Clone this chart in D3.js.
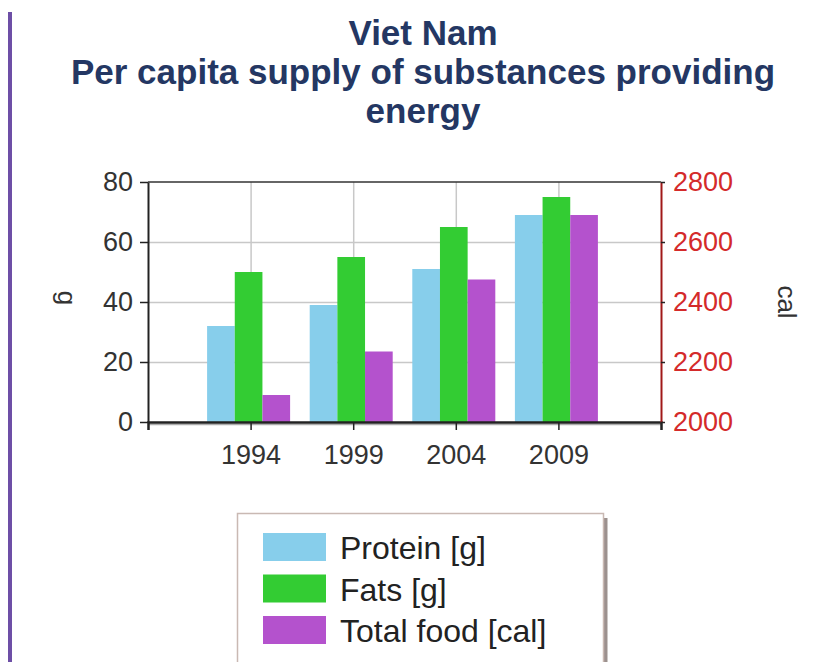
<!DOCTYPE html>
<html lang="en">
<head>
  <meta charset="UTF-8">
  <title>Viet Nam - energy supply</title>
  <style>
    body { margin: 0; background: #fff; }
    svg { display: block; font-family: "Liberation Sans", Arial, sans-serif; }
    .grid line { stroke: #c8c8c8; stroke-width: 1.5; }
    .grid path { display: none; }
  </style>
</head>
<body>
  <div id="chart"></div>
  <script src="https://d3js.org/d3.v7.min.js"></script>
  <script>
    // values
    const years = ["1994", "1999", "2004", "2009"];
    const protein = [32, 39, 51, 69];        // g
    const fats = [50, 55, 65, 75];           // g
    const totalFood = [2090, 2235, 2475, 2690]; // cal
    const seriesNames = ["Protein [g]", "Fats [g]", "Total food [cal]"];
    const gTicks = [0, 20, 40, 60, 80];
    const calTicks = [2000, 2200, 2400, 2600, 2800];

    const colors = ["#87CEEB", "#33CC33", "#B452CD"];
    const W = 818, H = 662;
    const pLeft = 148, pRight = 661, pTop = 182, pBottom = 422;

    const svg = d3.select('#chart').append('svg')
      .attr('width', W).attr('height', H);

    // purple page border on the left
    svg.append('rect').attr('x', 8).attr('y', 12).attr('width', 4).attr('height', H - 12)
      .attr('fill', '#6d4fa6');

    // title
    const title = ["Viet Nam", "Per capita supply of substances providing", "energy"];
    svg.append('g').selectAll('text').data(title).join('text')
      .attr('x', 423).attr('y', (d, i) => 45 + i * 39)
      .attr('text-anchor', 'middle')
      .attr('font-size', 35).attr('font-weight', 'bold')
      .attr('fill', '#243763')
      .text(d => d);

    const x = d3.scalePoint().domain(years).range([pLeft, pRight]).padding(1);
    const y = d3.scaleLinear().domain([0, 80]).range([pBottom, pTop]);
    const y2 = d3.scaleLinear().domain([2000, 2800]).range([pBottom, pTop]);
    const xInner = d3.scaleBand().domain(d3.range(3)).range([-43.5, 39.5]);

    // grid
    svg.append('g').attr('class', 'grid')
      .attr('transform', `translate(0,${pBottom})`)
      .call(d3.axisBottom(x).tickSize(-(pBottom - pTop)).tickFormat(''));
    svg.append('g').attr('class', 'grid')
      .attr('transform', `translate(${pLeft},0)`)
      .call(d3.axisLeft(y).tickValues([20, 40, 60]).tickSize(-(pRight - pLeft)).tickFormat(''));

    // top border
    svg.append('line').attr('x1', pLeft).attr('x2', pRight).attr('y1', pTop).attr('y2', pTop)
      .attr('stroke', '#333').attr('stroke-width', 1.5);

    // bars
    const rows = years.map((yr, i) => ({ year: yr, vals: [protein[i], fats[i], totalFood[i]] }));
    const groups = svg.append('g').selectAll('g').data(rows).join('g')
      .attr('transform', d => `translate(${x(d.year)},0)`);
    groups.selectAll('rect').data(d => d.vals.map((v, k) => ({ v, k }))).join('rect')
      .attr('x', d => xInner(d.k))
      .attr('width', xInner.bandwidth())
      .attr('y', d => d.k === 2 ? y2(d.v) : y(d.v))
      .attr('height', d => pBottom - (d.k === 2 ? y2(d.v) : y(d.v)))
      .attr('fill', d => colors[d.k]);

    // axes
    const tickFont = 27;
    // soft shadow under the x axis line
    svg.append('line').attr('x1', pLeft).attr('x2', pRight).attr('y1', pBottom + 2.5).attr('y2', pBottom + 2.5)
      .attr('stroke', '#777').attr('stroke-width', 1.5).attr('opacity', 0.6);
    const xAxis = svg.append('g')
      .attr('transform', `translate(0,${pBottom})`)
      .call(d3.axisBottom(x).tickSize(8).tickPadding(15));
    xAxis.select('.domain').attr('stroke', '#222').attr('stroke-width', 2.5);
    xAxis.selectAll('line').attr('stroke', '#222').attr('stroke-width', 1.5);
    xAxis.selectAll('text').attr('font-size', tickFont).attr('fill', '#333');

    const yAxis = svg.append('g')
      .attr('transform', `translate(${pLeft},0)`)
      .call(d3.axisLeft(y).tickValues(gTicks).tickSize(8).tickPadding(7).tickSizeOuter(0));
    yAxis.select('.domain').attr('stroke', '#222').attr('stroke-width', 2);
    yAxis.selectAll('line').attr('stroke', '#222').attr('stroke-width', 1.5);
    yAxis.selectAll('text').attr('font-size', tickFont).attr('fill', '#333');

    const y2Axis = svg.append('g')
      .attr('transform', `translate(${pRight},0)`)
      .call(d3.axisRight(y2).tickValues(calTicks).tickFormat(d3.format('d'))
        .tickSize(4).tickPadding(8).tickSizeOuter(0));
    y2Axis.select('.domain').attr('stroke', '#a01818').attr('stroke-width', 2);
    y2Axis.selectAll('line').attr('stroke', '#222').attr('stroke-width', 1.5);
    y2Axis.selectAll('text').attr('font-size', tickFont).attr('fill', '#d42a2a');

    // axis titles
    svg.append('text').attr('transform', 'translate(58,298) rotate(90)')
      .attr('text-anchor', 'middle').attr('font-size', 26).attr('fill', '#333').text('g');
    svg.append('text').attr('transform', 'translate(778,302) rotate(90)')
      .attr('text-anchor', 'middle').attr('font-size', 26).attr('fill', '#333').text('cal');

    // legend
    const lg = svg.append('g');
    lg.append('rect').attr('x', 604).attr('y', 518).attr('width', 3.5).attr('height', 160).attr('fill', '#9c918e');
    lg.append('rect').attr('x', 237.5).attr('y', 513.5).attr('width', 366).attr('height', 160)
      .attr('fill', '#fff').attr('stroke', '#c9b9b3').attr('stroke-width', 1.5);
    const items = lg.selectAll('g.item').data(seriesNames).join('g')
      .attr('transform', (d, i) => `translate(263,${533 + i * 41.5})`);
    items.append('rect').attr('width', 63).attr('height', 28).attr('fill', (d, i) => colors[i]);
    items.append('text').attr('x', 77).attr('y', 26).attr('font-size', 32).attr('fill', '#222').text(d => d);
  </script>
</body>
</html>
